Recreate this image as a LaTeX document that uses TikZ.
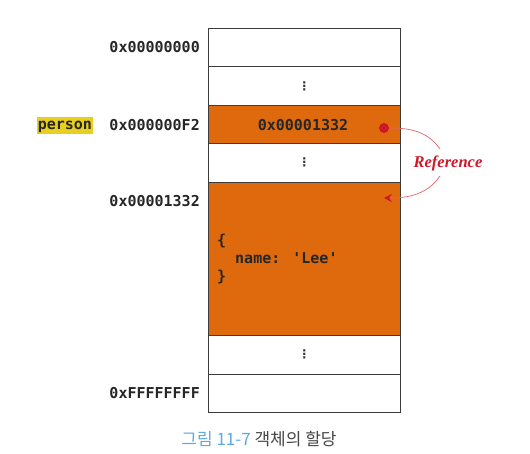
\documentclass[tikz,border=0pt]{standalone}
\usepackage{fontspec}
\usetikzlibrary{arrows.meta}
\newfontfamily\codefont{DejaVu Sans Mono}
\newfontfamily\dotsfont{DejaVu Sans}
\newfontfamily\reffont{Liberation Serif}
\newfontfamily\krfont{Noto Sans CJK KR}
\definecolor{memorange}{RGB}{223,106,14}
\definecolor{hiyellow}{RGB}{232,206,30}
\definecolor{refred}{RGB}{206,24,40}
\definecolor{arrred}{RGB}{226,100,110}
\definecolor{capblue}{RGB}{96,170,222}
\definecolor{capgray}{RGB}{70,70,70}
\definecolor{cellline}{RGB}{60,60,60}
\tikzset{
  cell/.style={draw=cellline, line width=0.8pt, minimum width=192pt, minimum height=38.4pt, inner sep=0pt, anchor=north west},
  free/.style={cell, fill=white},
  used/.style={cell, fill=memorange},
  addr/.style={font=\codefont\bfseries\fontsize{15}{15}\selectfont, anchor=east, inner sep=0pt, text=black!85},
  code/.style={font=\codefont\bfseries\fontsize{15}{15}\selectfont, anchor=base west, inner sep=0pt, text=black!85},
  gap/.style={font=\dotsfont\bfseries\fontsize{12}{12}\selectfont, inner sep=0pt, text=black!80},
  refarrow/.style={draw=arrred, line width=0.7pt}
}
\begin{document}
\begin{tikzpicture}[x=1pt,y=-1pt]
\useasboundingbox (0,0) rectangle (530,454);
\fill[white] (0,0) rectangle (530,454);
% memory cells
\node[free] (r0) at (208,28) {};
\node[free] (r1) at (208,66.4) {};
\node[used] (r2) at (208,104.8) {};
\node[free] (r3) at (208,143.2) {};
\node[used, minimum height=153.6pt] (r4) at (208,181.6) {};
\node[free] (r5) at (208,335.2) {};
\node[free] (r6) at (208,373.6) {};
% gaps
\node[gap] (g1) at (r1.center) {⋮};
\node[gap] (g3) at (r3.center) {⋮};
\node[gap] (g5) at (r5.center) {⋮};
% addresses
\node[addr] (a0) at (200,47.5) {0x00000000};
\node[addr] (a2) at (200,125) {0x000000F2};
\node[addr] (a4) at (200,201) {0x00001332};
\node[addr] (a6) at (200,393) {0xFFFFFFFF};
\node[addr, fill=hiyellow, inner xsep=0.8pt, inner ysep=0pt, text height=12pt, text depth=5pt] (person) at (93,126) {person};
% contents
\node[font=\codefont\bfseries\fontsize{15}{15}\selectfont, inner sep=0pt, text=black!85] (v2) at (303,125) {0x00001332};
\node[code] (c1) at (217,246) {\{};
\node[code] (c2) at (235,263.5) {name: 'Lee'};
\node[code] (c3) at (217,281.5) {\}};
% reference
\coordinate (u) at (440,149);
\coordinate (l) at (440,176);
\coordinate (tgt) at (384,198);
\node[circle, fill=refred, minimum size=10pt, inner sep=0pt] (dot) at (384,128) {};
\draw[refarrow] (dot.east) to[out=0,in=125] (u);
\draw[refarrow, -{Stealth[length=8pt,width=8pt,inset=3pt,color=refred]}] (l) to[out=-125,in=0] (tgt);
\node[font=\reffont\bfseries\itshape\fontsize{16.5}{16.5}\selectfont, text=refred, inner sep=0pt] (ref) at (448,163) {Reference};
% caption
\node[font=\krfont\fontsize{17}{17}\selectfont, inner sep=0pt] (cap) at (259,439) {\textcolor{capblue}{그림 11-7} \textcolor{capgray}{객체의 할당}};
\end{tikzpicture}
\end{document}
